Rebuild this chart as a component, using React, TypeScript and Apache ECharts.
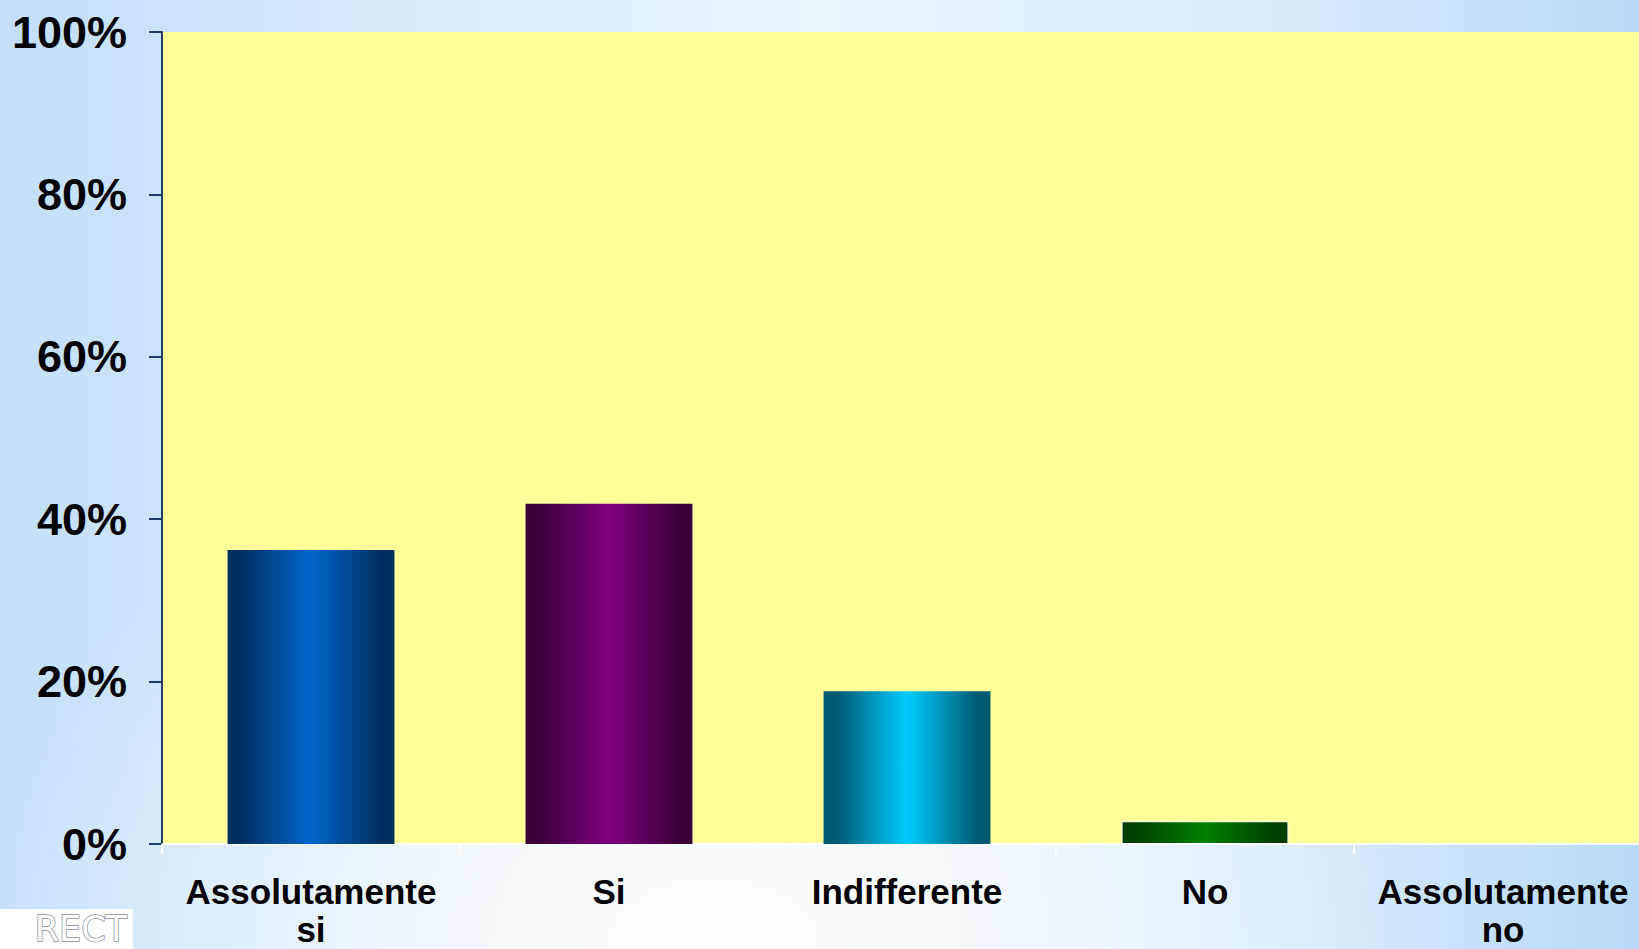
import React, { useEffect, useRef } from "react";
import * as echarts from "echarts";

const categories = ["Assolutamente si", "Si", "Indifferente", "No", "Assolutamente no"];
const values = [36.2, 41.9, 18.8, 2.8, 0];
const barGradients = [
  ["#002f5f", "#0066cc", "#002f5f"],
  ["#3a003a", "#800080", "#3a003a"],
  ["#005a72", "#00ccff", "#005a72"],
  ["#003f00", "#008000", "#003f00"],
  ["#003f00", "#008000", "#003f00"],
];
const yTicks = [0, 20, 40, 60, 80, 100];

const FONT = 'Arial, "Liberation Sans", Helvetica, sans-serif';

export default function App() {
  const ref = useRef<HTMLDivElement>(null);
  useEffect(() => {
    if (!ref.current) return;
    const chart = echarts.init(ref.current, null, { renderer: "svg" });
    const grad = (c: string[]) =>
      new echarts.graphic.LinearGradient(0, 0, 1, 0, [
        { offset: 0, color: c[0] },
        { offset: 0.08, color: c[0] },
        { offset: 0.5, color: c[1] },
        { offset: 0.92, color: c[2] },
        { offset: 1, color: c[2] },
      ]);
    chart.setOption({
      animation: false,
      backgroundColor: "transparent",
      grid: {
        left: 162,
        right: -13,
        top: 32,
        bottom: 105,
        outerBoundsMode: "none",
        containLabel: false,
        show: true,
        backgroundColor: "#ffff99",
        borderWidth: 0,
      },
      xAxis: {
        type: "category",
        data: categories,
        axisLine: { show: true, lineStyle: { color: "#ffffff", width: 2 } },
        axisTick: { show: true, length: 10, lineStyle: { color: "#ffffff", width: 2 } },
        axisLabel: {
          interval: 0,
          margin: 28,
          color: "#000",
          fontFamily: FONT,
          fontWeight: "bold",
          fontSize: 35,
          lineHeight: 38,
          formatter: (v: string) => v.replace("Assolutamente ", "Assolutamente\n"),
        },
      },
      yAxis: {
        type: "value",
        min: yTicks[0],
        max: yTicks[yTicks.length - 1],
        interval: 20,
        splitLine: { show: false },
        axisLine: { show: true, lineStyle: { color: "#1c3d6b", width: 2 } },
        axisTick: { show: true, length: 13, lineStyle: { color: "#1c3d6b", width: 2 } },
        axisLabel: {
          margin: 35,
          color: "#000",
          fontFamily: FONT,
          fontWeight: "bold",
          fontSize: 45,
          formatter: (v: number) => v + "%",
        },
      },
      series: [
        {
          type: "bar",
          barCategoryGap: "44%",
          data: values.map((v, i) => ({
            value: v,
            itemStyle: {
              color: grad(barGradients[i]),
              borderColor: i === 3 ? "#ffffff" : undefined,
              borderWidth: i === 3 ? 1 : 0,
            },
          })),
        },
      ],
      graphic: [
        {
          type: "rect",
          left: 0,
          top: 909,
          shape: { width: 133, height: 40 },
          style: { fill: "#ffffff" },
          silent: true,
        },
        {
          type: "text",
          x: 127,
          y: 929,
          style: {
            text: "RECT",
            align: "right",
            verticalAlign: "middle",
            font: '35px "DejaVu Sans", sans-serif',
            fill: "#ffffff",
            stroke: "#8790a4",
            lineWidth: 1.5,
          },
          silent: true,
        },
      ],
    });
    return () => chart.dispose();
  }, []);

  return (
    <div
      style={{
        position: "absolute",
        left: 0,
        top: 0,
        width: 1639,
        height: 949,
        overflow: "hidden",
        background:
          "radial-gradient(ellipse 45% 55% at 42% 100%, rgba(255,255,255,0.95) 0%, rgba(255,255,255,0) 100%), linear-gradient(to right, #c3dff9 0%, #dcedfc 30%, #eaf4fe 50%, #d8ebfb 78%, #b8daf6 100%)",
      }}
    >
      <div ref={ref} style={{ width: 1639, height: 949 }} />
    </div>
  );
}
